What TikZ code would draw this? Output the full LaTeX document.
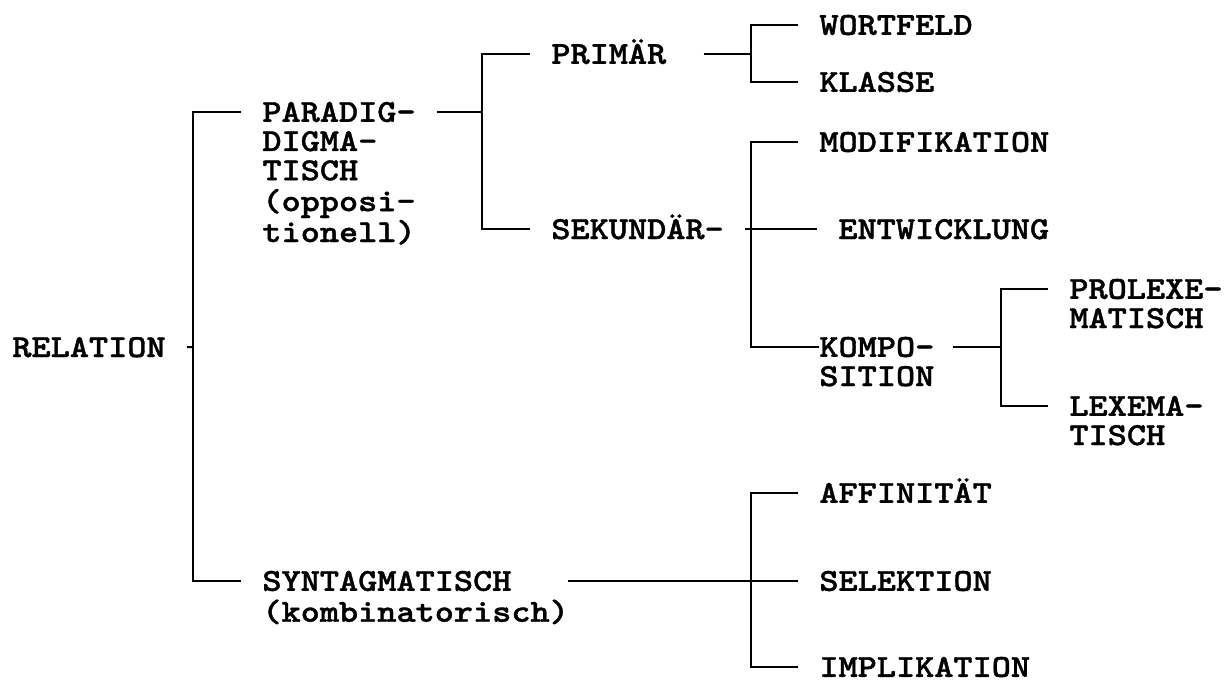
\documentclass[tikz,border=0pt]{standalone}
\usepackage{fontspec}
\usepackage{tikz}
\usetikzlibrary{positioning}
\newfontfamily\relfont{lmmonolt10-bold.otf}[FakeStretch=1.14, FakeBold=1.2]
\newcommand\rows[1]{\begin{tabular}[t]{@{}l@{}}#1\end{tabular}}
\definecolor{rline}{HTML}{000000}
\tikzset{
  lbl/.style={font={\relfont\fontsize{16}{14.6}\selectfont}, anchor=base west,
              inner xsep=10.5pt, inner ysep=0pt},
  br/.style={draw=rline, line width=1pt},
}

\begin{document}
\begin{tikzpicture}[x=0.5pt, y=-0.5pt]
  \useasboundingbox (0,0) rectangle (1224,679);
  \def\cy{4.9pt}
  \node[lbl] (rel) at (-9, 357) {RELATION};
  \node[lbl] (par) at (241, 121.8) {\rows{PARADIG-\\DIGMA-\\TISCH\\(opposi-\\tionell)}};
  \node[lbl] (syn) at (241, 590.8) {\rows{SYNTAGMATISCH\\(kombinatorisch)}};
  \node[lbl] (pri) at (530, 63.8) {PRIMÄR};
  \node[lbl] (sek) at (530, 239) {SEKUNDÄR-};
  \node[lbl] (wor) at (798, 34.8) {WORTFELD};
  \node[lbl] (kla) at (798, 91.8) {KLASSE};
  \node[lbl] (mod) at (798, 151.8) {MODIFIKATION};
  \node[lbl] (ent) at (817, 239) {ENTWICKLUNG};
  \node[lbl, inner xsep=0pt] (kom) at (819, 356.8) {\rows{KOMPO-\\SITION}};
  \node[lbl] (pro) at (1048, 298.8) {\rows{PROLEXE-\\MATISCH}};
  \node[lbl] (lex) at (1048, 415.8) {\rows{LEXEMA-\\TISCH}};
  \node[lbl] (aff) at (798, 502.8) {AFFINITÄT};
  \node[lbl] (sel) at (798, 590.8) {SELEKTION};
  \node[lbl] (imp) at (798, 676.8) {IMPLIKATION};

  \coordinate (jroot) at (193, 347);
  \coordinate (jpar) at (482, 112);
  \coordinate (jpri) at (751, 54);
  \coordinate (jsek) at (751, 229.2);
  \coordinate (jkom) at (1001, 347);
  \coordinate (jsyn) at (751, 581);

  \draw[br] ([yshift=\cy]rel.base east) -- (jroot);
  \draw[br] ([yshift=\cy]par.base west) -| (jroot) |- ([yshift=\cy]syn.base west);
  \draw[br] ([yshift=\cy]par.base east) -- (jpar);
  \draw[br] ([yshift=\cy]pri.base west) -| (jpar) |- ([yshift=\cy]sek.base west);
  \draw[br, shorten <=8pt] ([yshift=\cy]pri.base east) -- (jpri);
  \draw[br] ([yshift=\cy]wor.base west) -| (jpri) |- ([yshift=\cy]kla.base west);
  \draw[br] ([yshift=\cy]sek.base east) -- ([yshift=\cy]ent.base west);
  \draw[br] ([yshift=\cy]mod.base west) -| (jsek) |- ([yshift=\cy]kom.base west);
  \draw[br, shorten <=9pt] ([yshift=\cy]kom.base east) -- (jkom);
  \draw[br] ([yshift=\cy]pro.base west) -| (jkom) |- ([yshift=\cy]lex.base west);
  \draw[br, shorten <=-11pt] ([yshift=\cy]syn.base east) -- ([yshift=\cy]sel.base west);
  \draw[br] ([yshift=\cy]aff.base west) -| (jsyn) |- ([yshift=\cy]imp.base west);
\end{tikzpicture}
\end{document}
